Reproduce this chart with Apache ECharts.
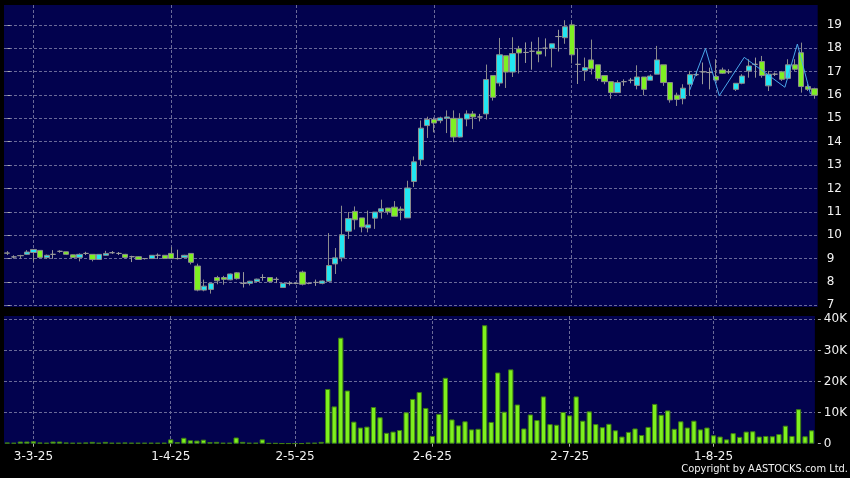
<!DOCTYPE html>
<html><head><meta charset="utf-8">
<script src="https://cdn.jsdelivr.net/npm/echarts@6/dist/echarts.min.js"></script>
<style>html,body{margin:0;padding:0;background:#000;}#c{width:850px;height:478px;}</style>
</head><body><div id="c"></div>
<script>
const dates = [
'25-2-25','26-2-25','27-2-25','28-2-25',
'3-3-25','4-3-25','5-3-25','6-3-25','7-3-25','10-3-25','11-3-25','12-3-25','13-3-25','14-3-25','17-3-25','18-3-25','19-3-25','20-3-25','21-3-25','24-3-25','25-3-25','26-3-25','27-3-25','28-3-25','31-3-25',
'1-4-25','2-4-25','3-4-25','7-4-25','8-4-25','9-4-25','10-4-25','11-4-25','14-4-25','15-4-25','16-4-25','17-4-25','22-4-25','23-4-25','24-4-25','25-4-25','28-4-25','29-4-25','30-4-25',
'2-5-25','5-5-25','6-5-25','7-5-25','8-5-25','9-5-25','12-5-25','13-5-25','14-5-25','15-5-25','16-5-25','19-5-25','20-5-25','21-5-25','22-5-25','23-5-25','26-5-25','27-5-25','28-5-25','29-5-25','30-5-25',
'2-6-25','3-6-25','4-6-25','5-6-25','6-6-25','9-6-25','10-6-25','11-6-25','12-6-25','13-6-25','16-6-25','17-6-25','18-6-25','19-6-25','20-6-25','23-6-25','24-6-25','25-6-25','26-6-25','27-6-25','30-6-25',
'2-7-25','3-7-25','4-7-25','7-7-25','8-7-25','9-7-25','10-7-25','11-7-25','14-7-25','15-7-25','16-7-25','17-7-25','18-7-25','21-7-25','22-7-25','23-7-25','24-7-25','25-7-25','28-7-25','29-7-25','30-7-25','31-7-25',
'1-8-25','4-8-25','5-8-25','6-8-25','7-8-25','8-8-25','11-8-25','12-8-25','13-8-25','14-8-25','15-8-25','18-8-25','19-8-25','20-8-25','21-8-25','22-8-25'
];
const tickLabels = ['3-3-25','1-4-25','2-5-25','2-6-25','2-7-25','1-8-25'];
// [open, close, low, high]
const ohlc = [
[9.24,9.23,9.15,9.32],[9.07,9.07,9.00,9.14],[9.13,9.12,9.00,9.16],[9.18,9.28,9.15,9.36],[9.26,9.39,8.87,9.40],
[9.35,9.05,9.04,9.36],[9.04,9.14,8.98,9.17],[9.18,9.18,8.99,9.36],[9.31,9.31,9.25,9.35],[9.29,9.18,9.15,9.30],
[9.16,9.05,9.04,9.17],[9.05,9.18,8.88,9.22],[9.22,9.22,9.15,9.29],[9.18,8.96,8.88,9.18],[8.96,9.18,8.95,9.19],
[9.14,9.22,9.13,9.33],[9.25,9.25,9.20,9.32],[9.22,9.22,9.15,9.28],[9.18,9.05,9.00,9.20],[9.08,9.08,8.85,9.12],
[9.08,8.96,8.95,9.10],[9.00,9.00,8.96,9.02],[9.00,9.14,8.98,9.15],[9.14,9.14,8.98,9.22],[9.14,9.00,8.98,9.15],
[9.22,9.00,9.00,9.50],[9.00,9.00,8.96,9.38],[9.05,9.14,9.03,9.16],[9.22,8.84,8.75,9.22],[8.68,7.65,7.60,8.78],
[7.65,7.82,7.60,8.10],[7.68,7.94,7.50,7.96],[8.19,8.05,7.90,8.26],[8.19,8.11,7.88,8.26],[8.09,8.34,8.07,8.36],
[8.39,8.14,8.10,8.42],[7.94,7.94,7.76,8.42],[7.94,8.03,7.85,8.05],[8.02,8.12,8.00,8.14],[8.19,8.19,8.05,8.33],
[8.19,8.01,7.98,8.20],[8.11,8.11,7.95,8.20],[7.76,7.94,7.75,7.96],[7.94,7.94,7.85,8.03],[7.94,7.94,7.90,7.98],
[8.42,7.90,7.85,8.48],[7.94,7.94,7.90,7.98],[7.98,7.98,7.83,8.10],[7.94,8.04,7.90,8.06],[8.03,8.70,8.00,10.09],
[8.77,9.03,8.34,9.45],[9.03,10.02,8.88,11.26],[10.17,10.71,9.84,10.99],[11.02,10.66,10.24,11.23],[10.74,10.35,10.12,10.74],
[10.31,10.44,10.12,11.05],[10.73,10.99,10.27,10.99],[11.00,11.13,10.71,11.52],[11.16,11.00,10.88,11.17],[11.20,10.81,10.81,11.46],
[11.12,11.05,10.64,11.23],[10.74,12.02,10.74,12.33],[12.30,13.14,12.06,13.37],[13.23,14.58,13.00,14.91],[14.69,14.95,14.16,15.07],
[14.95,14.80,14.40,15.04],[14.90,15.02,14.79,15.07],[15.00,15.06,14.37,15.34],[15.00,14.20,13.98,15.34],[14.20,15.00,14.18,15.22],
[14.97,15.19,14.66,15.34],[15.19,15.06,14.54,15.31],[15.06,15.06,14.87,15.19],[15.19,16.66,14.95,17.30],[16.83,15.90,15.76,16.83],
[16.51,17.72,16.37,18.44],[17.68,16.98,16.30,17.68],[16.98,17.77,16.77,18.47],[17.97,17.80,16.92,18.10],[17.82,17.82,17.37,18.25],
[17.87,17.87,17.08,18.28],[17.87,17.75,17.40,18.47],[18.00,18.00,17.65,18.42],[18.00,18.19,17.18,18.19],[18.50,18.50,17.86,18.79],
[18.45,18.92,18.19,19.20],[19.00,17.72,17.35,19.10],[17.31,17.31,16.47,18.00],[17.04,17.17,16.60,17.60],[17.50,17.12,16.88,18.37],
[17.29,16.70,16.60,17.29],[16.83,16.57,16.46,16.85],[16.57,16.10,15.84,16.57],[16.10,16.53,16.10,16.63],[16.57,16.57,16.39,16.67],
[16.63,16.63,16.50,16.73],[16.41,16.77,16.24,17.27],[16.77,16.24,15.99,16.77],[16.63,16.81,16.63,16.88],[16.89,17.50,16.89,18.10],
[17.29,16.53,16.39,17.29],[16.53,15.79,15.67,16.53],[15.99,15.81,15.53,16.10],[15.84,16.29,15.60,16.46],[16.46,16.87,15.96,17.03],
[16.87,16.87,16.81,17.03],[16.99,16.99,16.46,17.39],[16.96,16.96,16.24,17.17],[16.79,16.64,16.60,17.53],[17.07,16.93,16.90,17.17],
[16.99,16.99,16.90,17.10],[16.24,16.50,16.17,16.50],[16.50,16.81,16.46,16.89],[17.03,17.24,16.74,17.53],[17.31,17.31,16.74,17.60],
[17.43,16.83,16.74,17.67],[16.39,16.89,16.17,17.03],[16.89,16.89,16.81,16.96],[16.99,16.67,16.60,17.03],[16.71,17.29,16.67,17.53],
[17.29,17.10,17.03,17.53],[17.81,16.36,16.10,18.24],[16.36,16.24,16.17,16.46],[16.27,15.99,15.84,16.31]
];
// volume in thousands
const volumeK = [
0.4,0.3,0.7,0.7,0.8,0.4,0.3,0.7,0.7,0.4,0.3,0.3,0.4,0.6,0.3,0.6,0.3,0.3,0.4,0.3,0.3,0.3,0.3,0.3,0.3,
1.4,0.5,1.9,1.1,1.0,1.3,0.5,0.6,0.3,0.3,2.0,0.6,0.3,0.3,1.4,0.2,0.2,0.1,0.1,0.1,
0.1,0.3,0.3,0.6,17.6,12.0,34.1,17.1,7.1,5.2,5.5,11.8,8.5,3.5,3.9,4.4,10.1,14.4,16.6,11.5,2.5,9.6,21.2,7.8,5.9,
7.2,4.6,4.8,38.1,7.0,22.9,10.3,23.9,12.6,4.9,9.4,7.6,15.2,6.3,6.1,10.2,9.1,15.2,
7.4,10.4,6.3,5.3,6.4,4.3,2.3,3.8,4.9,2.8,5.4,12.8,9.3,10.7,4.8,7.2,5.2,7.4,4.6,5.2,2.7,2.3,1.4,3.4,2.2,3.9,4.0,2.3,2.5,2.4,3.1,5.8,2.5,11.1,2.4,4.3
];
// thin blue overlay line: positions in candle-index units, values in price
const lineIdx = [104, 106.4, 108.5, 112.3, 118.5, 120.4, 122.4];
const lineVal = [16.21, 17.99, 15.97, 17.61, 16.33, 18.18, 16.04];

const NAVY = '#02024e';
const GRIDC = '#6a6a98';
const FONT = 'DejaVu Sans';
const showTick = (i, v) => tickLabels.indexOf(v) >= 0;

const chart = echarts.init(document.getElementById('c'), null, {renderer: 'canvas'});
chart.setOption({
  animation: false,
  backgroundColor: '#000',
  grid: [
    {left: 4, right: 32.3, top: 5, height: 300.3, show: true, backgroundColor: NAVY, borderWidth: 0},
    {left: 4, right: 32.3, top: 316, bottom: 34.3, show: true, backgroundColor: NAVY, borderWidth: 0}
  ],
  graphic: [
    {type: 'rect', z: -1, shape: {x: 4, y: 305, width: 813.7, height: 2}, style: {fill: NAVY}, silent: true},
    {type: 'text', right: 2, top: 464, style: {text: 'Copyright by AASTOCKS.com Ltd.', font: '11px "DejaVu Sans Condensed", "DejaVu Sans"', fill: '#f2f2f2'}}
  ],
  xAxis: [
    {type: 'category', gridIndex: 0, data: dates, boundaryGap: true,
     axisLine: {show: false}, axisTick: {show: false}, axisLabel: {show: false},
     splitLine: {show: true, interval: showTick, alignWithLabel: true, lineStyle: {color: GRIDC, type: [3, 2], width: 1}}},
    {type: 'category', gridIndex: 1, data: dates, boundaryGap: true, offset: 3,
     axisLine: {show: false},
     axisTick: {show: true, interval: showTick, alignWithLabel: true, length: 3, lineStyle: {color: '#b0b0b0'}},
     axisLabel: {show: true, interval: showTick, margin: 4, color: '#f2f2f2', fontFamily: FONT, fontSize: 12},
     splitLine: {show: true, interval: showTick, alignWithLabel: true, lineStyle: {color: GRIDC, type: [3, 2], width: 1}}},
    {type: 'value', gridIndex: 0, min: -0.5, max: dates.length - 0.5, show: false}
  ],
  yAxis: [
    {type: 'value', gridIndex: 0, position: 'right', min: 7, max: 19.85, interval: 1, offset: 3,
     axisLine: {show: false},
     axisTick: {show: true, length: 3, lineStyle: {color: '#b0b0b0'}},
     axisLabel: {margin: 6, color: '#f2f2f2', fontFamily: FONT, fontSize: 12, showMaxLabel: false,
       formatter: v => Number.isInteger(v) ? String(v) : ''},
     splitLine: {show: true, showMaxLine: false, lineStyle: {color: GRIDC, type: [3, 2], width: 1}}},
    {type: 'value', gridIndex: 1, position: 'right', min: 0, max: 41.06, interval: 10, offset: 3,
     axisLine: {show: false},
     axisTick: {show: true, length: 3, lineStyle: {color: '#b0b0b0'}},
     axisLabel: {margin: 6, color: '#f2f2f2', fontFamily: FONT, fontSize: 12, showMaxLabel: false,
       formatter: v => (Math.abs(v % 10) > 1e-6) ? '' : (v === 0 ? '0' : v + 'K')},
     splitLine: {show: true, showMaxLine: false, showMinLine: false, lineStyle: {color: GRIDC, type: [3, 2], width: 1}}}
  ],
  series: [
    {type: 'candlestick', xAxisIndex: 0, yAxisIndex: 0, data: ohlc, barWidth: 5.7,
     itemStyle: {color: '#22e6f2', color0: '#7ef022', borderColor: '#8c8c8c', borderColor0: '#8c8c8c', borderColorDoji: '#9a9a9a', borderWidth: 1}},
    {type: 'line', xAxisIndex: 2, yAxisIndex: 0, data: lineIdx.map((x, i) => [x, lineVal[i]]),
     symbol: 'none', lineStyle: {color: '#4aa6ea', width: 1}, z: 3},
    {type: 'bar', xAxisIndex: 1, yAxisIndex: 1, data: volumeK, barWidth: 5.3,
     itemStyle: {color: '#7ef01e', borderColor: '#3e7c14', borderWidth: 1}}
  ]
});
</script></body></html>
